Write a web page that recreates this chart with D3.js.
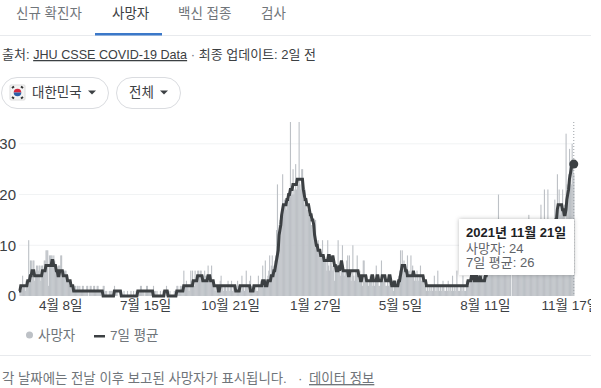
<!DOCTYPE html>
<html lang="ko">
<head>
<meta charset="utf-8">
<script src="https://cdnjs.cloudflare.com/ajax/libs/d3/7.8.5/d3.min.js"></script>
<style>
    body { margin: 0; background: #fff; }
    text { font-family: "Liberation Sans", "Noto Sans CJK KR", sans-serif; }
</style>
</head>
<body>
<script>
"use strict";

// one value per day from 2020-02-20, ten days on each row
const deaths = [
    0,1,2,1,4,2,2,1,3,2, 3,11,3,7,7,4,7,7,3,4, 6,6,5,6,6,3,6,6,5,7, 7,9,9,9,2,8,8,8,8,6,
    8,7,5,6,4,6,6,6,8,8, 5,4,5,5,5,4,3,3,2,3, 2,2,2,1,2,2,1,2,2,1, 2,1,1,2,2,1,1,1,2,2,
    0,1,2,2,1,1,2,2,1,1, 2,2,1,1,1,0,1,2,2,1, 1,1,0,0,1,1,1,1,0,0, 2,1,1,1,0,0,0,1,1,0,
    0,1,0,0,0,1,0,0,0,1, 0,0,1,0,0,1,0,0,1,1, 2,2,1,1,1,0,1,2,2,1, 1,1,1,1,0,2,1,1,0,1,
    0,0,0,1,0,0,1,0,0,0, 2,1,1,0,1,0,0,0,0,1, 0,1,2,2,1,1,2,2,1,1, 5,2,2,3,2,2,1,2,5,3,
    5,3,2,5,3,4,5,5,4,5, 5,4,3,4,5,4,4,3,6,3, 3,4,6,3,3,2,1,2,1,2, 1,2,3,4,2,2,1,2,2,1,
    2,3,2,1,2,3,1,2,2,1, 2,1,3,2,2,2,1,4,2,2, 1,2,5,2,2,1,3,4,2,1, 2,2,1,2,1,1,4,2,2,3,
    2,6,2,3,7,3,3,4,5,8, 4,6,8,5,6,7,8,13,22,10, 14,15,16,16,24,17,19,18,17,19, 18,20,19,36,21,20,25,20,21,26,
    21,23,22,36,22,21,25,25,19,18, 21,19,17,17,16,17,15,14,14,13, 13,12,15,11,10,11,9,9,8,8, 11,8,7,7,7,5,11,6,5,7,
    7,6,5,6,3,5,6,5,11,5, 5,4,5,10,6,4,5,5,7,8, 4,8,5,3,5,10,4,3,5,5, 8,4,3,5,3,4,2,7,7,4,
    3,4,3,2,3,4,3,3,2,3, 2,3,6,4,3,2,2,3,7,3, 3,4,3,2,2,3,2,3,3,2, 3,2,1,3,2,3,2,3,4,5,
    9,5,9,5,7,6,4,5,8,5, 5,4,8,4,6,4,3,4,3,5, 4,3,4,6,3,4,3,4,2,2, 1,2,1,2,2,1,2,1,2,4,
    1,2,1,5,2,1,2,1,2,3, 2,1,1,2,1,3,1,2,2,1, 4,1,2,1,2,5,2,1,1,2, 2,1,4,2,1,1,3,2,2,2,
    3,4,3,3,5,4,3,4,3,3, 4,5,3,4,6,3,4,5,3,5, 5,5,6,5,6,5,7,5,6,6, 6,7,6,20,8,6,7,8,6,7,
    7,8,6,8,9,7,6,8,0,8, 7,8,9,7,9,8,6,9,8,9, 8,9,10,8,9,7,8,10,16,8, 9,8,10,9,11,10,8,10,9,11,
    10,11,18,10,12,11,21,12,10,12, 21,13,14,12,15,13,14,14,19,15, 14,24,17,21,16,18,18,21,16,18, 15,32,22,20,24,29,24,22,30,26,
    24
];

const average = [
    1,1,2,2,2,2,2,2,2,2, 3,3,3,4,4,5,5,5,4,4, 4,4,4,4,4,4,4,5,5,5, 5,6,6,6,6,6,6,6,7,7,
    6,6,6,5,5,4,4,5,5,5, 5,4,4,4,4,4,3,3,3,3, 2,2,2,1,1,1,1,1,1,1, 1,1,1,1,1,1,1,1,1,1,
    1,1,1,1,1,1,1,1,1,1, 1,1,1,1,1,1,1,0,0,0, 0,0,0,0,0,0,0,0,0,0, 1,1,1,1,1,1,1,1,0,0,
    0,0,0,0,0,0,0,0,0,0, 0,0,0,0,0,0,0,1,1,1, 1,1,1,1,1,1,1,1,1,1, 1,1,1,1,1,0,0,0,0,0,
    0,0,0,0,0,0,0,0,1,1, 1,1,0,0,0,0,0,0,0,0, 0,0,1,1,1,1,1,1,1,1, 2,2,2,2,2,2,2,2,2,2,
    2,3,3,3,3,3,4,4,4,4, 4,4,3,3,3,3,3,3,4,4, 4,3,3,3,3,2,2,2,2,2, 1,1,2,2,2,2,2,2,2,2,
    2,2,2,2,2,2,2,2,2,2, 1,1,1,1,1,2,2,2,2,2, 2,2,2,2,2,2,2,1,1,1, 1,2,2,2,2,2,2,2,2,2,
    2,3,3,3,2,2,2,3,3,3, 3,4,4,4,5,5,6,7,8,9, 12,13,14,16,17,18,18,18,18,19, 19,20,20,21,21,21,22,22,22,22,
    22,23,23,23,23,23,23,23,21,20, 19,19,18,18,18,17,16,16,15,15, 14,12,11,10,10,9,9,9,8,8, 8,8,7,7,7,7,7,8,8,7,
    7,7,8,7,6,6,5,5,5,6, 5,6,7,6,5,5,5,5,5,5, 4,4,5,5,5,5,5,5,5,5, 5,5,4,4,3,3,4,4,4,4,
    4,3,3,3,3,3,3,4,4,3, 3,3,3,4,4,3,3,3,3,4, 4,4,4,3,3,3,3,4,4,3, 2,2,2,3,2,2,2,2,3,3,
    4,5,6,6,6,6,5,5,4,4, 4,4,4,4,4,5,4,4,4,4, 4,4,4,4,4,4,4,3,3,3, 2,2,2,2,2,2,2,2,2,2,
    2,2,2,2,2,2,2,2,2,2, 2,2,2,2,2,2,2,2,2,2, 2,2,2,2,2,2,2,2,2,2, 2,2,2,2,2,2,2,2,3,3,
    3,3,4,4,4,3,3,4,4,3, 3,3,4,3,3,3,3,3,4,4, 5,5,5,5,6,6,6,6,7,7, 7,7,8,8,8,8,8,8,8,8,
    8,8,8,8,8,9,9,9,9,9, 9,9,9,9,9,9,9,9,10,10, 10,10,10,10,10,11,11,11,11,11, 11,11,12,12,12,12,12,12,13,13,
    13,13,13,14,14,14,14,14,14,14, 14,14,14,14,14,14,14,14,14,15, 15,17,18,18,18,18,18,17,17,16, 16,17,19,20,21,23,24,25,26,26,
    26
];

const yTicks = [0, 10, 20, 30];
const xTickDays = [48, 146, 244, 342, 440, 538, 636];
const xTickLabels = ["4월 8일", "7월 15일", "10월 21일", "1월 27일", "5월 5일", "8월 11일", "11월 17일"];
const tabs = ["신규 확진자", "사망자", "백신 접종", "검사"];

const GREY_TEXT = "#70757a";
const DARK = "#3c4043";
const BAR = "#bdc1c6";

const svg = d3.select("body").append("svg")
    .attr("width", 591)
    .attr("height", 388)
    .style("display", "block");

// tabs
const tabX = [16, 112, 178, 261];
svg.selectAll(".tab")
    .data(tabs)
    .join("text")
    .attr("class", "tab")
    .attr("x", (d, i) => tabX[i])
    .attr("y", 18)
    .attr("font-size", 13.5)
    .attr("fill", (d, i) => i === 1 ? DARK : GREY_TEXT)
    .text(d => d);
svg.append("rect").attr("x", 0).attr("y", 35).attr("width", 591).attr("height", 1).attr("fill", "#e8eaed");
svg.append("rect").attr("x", 95).attr("y", 33).attr("width", 67).attr("height", 2.5).attr("fill", "#3b78c9");

// source line
const source = svg.append("text").attr("x", 2).attr("y", 59).attr("font-size", 13).attr("fill", DARK);
source.append("tspan").text("출처: ");
source.append("tspan").attr("font-size", 12.6).attr("text-decoration", "underline").text("JHU CSSE COVID-19 Data");
source.append("tspan").attr("fill", GREY_TEXT).text(" · ");
source.append("tspan").text("최종 업데이트: 2일 전");

// filter chips
function chip(x, w, label, textX, arrowX) {
    svg.append("rect")
        .attr("x", x + 0.5).attr("y", 77.5)
        .attr("width", w).attr("height", 31).attr("rx", 15.5)
        .attr("fill", "#fff").attr("stroke", "#dadce0");
    svg.append("text")
        .attr("x", textX).attr("y", 97)
        .attr("font-size", 13.5).attr("fill", DARK)
        .text(label);
    svg.append("path")
        .attr("d", `M${arrowX},90.5 h8 l-4,4 z`)
        .attr("fill", DARK);
}
chip(1, 107, "대한민국", 32, 88);
chip(116, 64, "전체", 129, 160);

// flag
const flag = svg.append("g").attr("transform", "translate(10,85)");
flag.append("rect").attr("width", 15).attr("height", 15).attr("rx", 1).attr("fill", "#f4f4f4").attr("stroke", "#ddd");
flag.append("path").attr("d", "M3.7,7.5 a3.8,3.8 0 0 1 7.6,0 z").attr("fill", "#d3273e");
flag.append("path").attr("d", "M3.7,7.5 a3.8,3.8 0 0 0 7.6,0 z").attr("fill", "#2b5fa8");
flag.selectAll("line")
    .data([[2, 3, 4, 1.5], [11, 1.5, 13, 3], [2, 12, 4, 13.5], [11, 13.5, 13, 12]])
    .join("line")
    .attr("x1", d => d[0]).attr("y1", d => d[1]).attr("x2", d => d[2]).attr("y2", d => d[3])
    .attr("stroke", "#333").attr("stroke-width", 2);

// chart
const x = d3.scaleBand()
    .domain(d3.range(deaths.length))
    .range([18.6, 574.2]);

const y = d3.scaleLinear()
    .domain([0, 34.3])
    .range([296, 122])
    .clamp(true); // the two tallest days run off the top of the plot

svg.append("g")
    .selectAll("line")
    .data(yTicks.slice(1))
    .join("line")
    .attr("x1", 19).attr("x2", 574)
    .attr("y1", d => y(d)).attr("y2", d => y(d))
    .attr("stroke", "#f1f3f4");

svg.append("g")
    .selectAll("rect")
    .data(deaths)
    .join("rect")
    .attr("x", (d, i) => x(i))
    .attr("y", d => y(d))
    .attr("width", x.bandwidth() + 0.25)
    .attr("height", d => 296 - y(d))
    .attr("fill", BAR);

const yAxis = svg.append("g")
    .attr("transform", "translate(16,0)")
    .call(d3.axisLeft(y).tickValues(yTicks).tickSize(0).tickPadding(0));
yAxis.select(".domain").remove();
yAxis.selectAll("text")
    .attr("font-size", 15)
    .attr("font-family", null)
    .attr("fill", DARK);

const xAxis = svg.append("g")
    .attr("transform", "translate(0,296)")
    .call(d3.axisBottom(x).tickValues(xTickDays).tickSize(0).tickPadding(4)
        .tickFormat((d, i) => xTickLabels[i]));
xAxis.select(".domain").remove();
xAxis.selectAll("text")
    .attr("font-size", 13.5)
    .attr("font-family", null)
    .attr("fill", DARK);

const lastDay = deaths.length - 1;
const cx = x(lastDay) + x.bandwidth() / 2;

svg.append("line")
    .attr("x1", cx).attr("x2", cx)
    .attr("y1", 122).attr("y2", 296)
    .attr("stroke", "#9aa0a6")
    .attr("stroke-dasharray", "1,2");

const line = d3.line()
    .x((d, i) => x(i) + x.bandwidth() / 2)
    .y(d => y(d));

svg.append("path")
    .datum(average)
    .attr("d", line)
    .attr("fill", "none")
    .attr("stroke", DARK)
    .attr("stroke-width", 3);

svg.append("circle")
    .attr("cx", cx)
    .attr("cy", y(average[lastDay]))
    .attr("r", 4.5)
    .attr("fill", DARK);

// tooltip
svg.append("rect")
    .attr("x", 459).attr("y", 219)
    .attr("width", 115).attr("height", 56)
    .attr("fill", "#fff")
    .style("filter", "drop-shadow(0 0 2px rgba(60,64,67,0.35))");
svg.append("text").attr("x", 466).attr("y", 237)
    .attr("font-size", 13).attr("font-weight", "bold").attr("fill", "#202124")
    .text("2021년 11월 21일");
svg.append("text").attr("x", 466).attr("y", 252.5)
    .attr("font-size", 13).attr("fill", "#5f6368")
    .text("사망자: 24");
svg.append("text").attr("x", 466).attr("y", 266.5)
    .attr("font-size", 13).attr("fill", "#5f6368")
    .text("7일 평균: 26");

// legend
svg.append("circle").attr("cx", 29.5).attr("cy", 335).attr("r", 3.5).attr("fill", BAR);
svg.append("text").attr("x", 38).attr("y", 340).attr("font-size", 13.5).attr("fill", GREY_TEXT).text("사망자");
svg.append("rect").attr("x", 94).attr("y", 335).attr("width", 11).attr("height", 2.5).attr("fill", DARK);
svg.append("text").attr("x", 110).attr("y", 340).attr("font-size", 13.5).attr("fill", GREY_TEXT).text("7일 평균");

// footer
svg.append("rect").attr("x", 0).attr("y", 355).attr("width", 591).attr("height", 1).attr("fill", "#e8eaed");
svg.append("text").attr("x", 2).attr("y", 383).attr("font-size", 13.4).attr("fill", GREY_TEXT)
    .text("각 날짜에는 전날 이후 보고된 사망자가 표시됩니다.");
svg.append("text").attr("x", 298).attr("y", 383).attr("font-size", 13.4).attr("fill", GREY_TEXT).text("·");
svg.append("text").attr("x", 309).attr("y", 383).attr("font-size", 13.4).attr("fill", GREY_TEXT)
    .attr("text-decoration", "underline")
    .text("데이터 정보");
</script>
</body>
</html>
